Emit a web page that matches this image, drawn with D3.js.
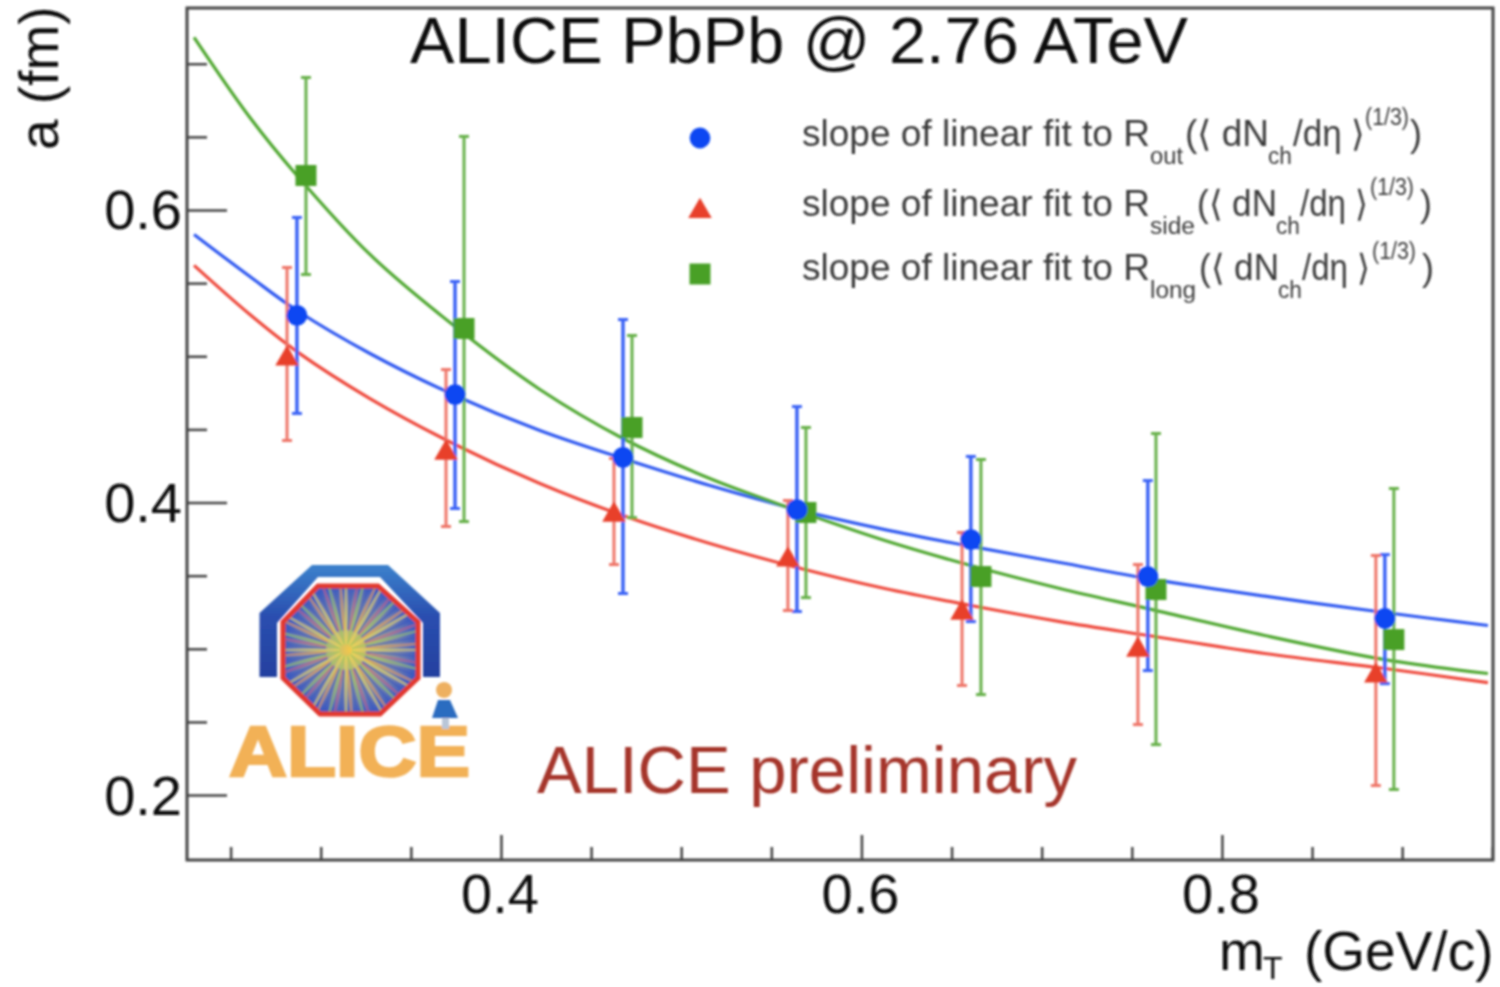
<!DOCTYPE html>
<html><head><meta charset="utf-8">
<script src="https://cdnjs.cloudflare.com/ajax/libs/d3/7.8.5/d3.min.js"></script>
<style>html,body{margin:0;padding:0;background:#fff;overflow:hidden}text{font-family:"Liberation Sans",Arial,sans-serif}</style>
</head><body><svg id="c" width="1500" height="987"></svg>
<script>
const seriesNames=["out","side","long"];
const xOut=[0.2868,0.3745,0.4677,0.5642,0.6607,0.7589,0.8904];
const yOut=[0.5279,0.4738,0.4308,0.3952,0.3747,0.3494,0.3207];
const hiOut=[0.5949,0.5511,0.5251,0.4656,0.4315,0.4150,0.3644];
const loOut=[0.4609,0.3959,0.3378,0.3255,0.3186,0.2851,0.2762];
const xSide=[0.2813,0.3695,0.4627,0.5592,0.6558,0.7534,0.8854];
const ySide=[0.5005,0.4362,0.3938,0.3631,0.3268,0.3015,0.2838];
const hiSide=[0.5607,0.4909,0.4301,0.4014,0.3795,0.3576,0.3638];
const loSide=[0.4424,0.3836,0.3576,0.3262,0.2749,0.2482,0.2065];
const xLong=[0.2918,0.3795,0.4727,0.5692,0.6663,0.7634,0.8954];
const yLong=[0.6236,0.5190,0.4513,0.3932,0.3494,0.3405,0.3063];
const hiLong=[0.6906,0.6503,0.5142,0.4513,0.4294,0.4472,0.4096];
const loLong=[0.5559,0.3870,0.3897,0.3350,0.2687,0.2345,0.2038];
const curveX=[0.2297,0.2607,0.2868,0.3273,0.3745,0.4216,0.4677,0.5159,0.5642,0.6130,0.6607,0.7101,0.7589,0.8238,0.8904,0.9476];
const curveOut=[0.5833,0.5545,0.5313,0.5019,0.4732,0.4492,0.4301,0.4116,0.3952,0.3815,0.3700,0.3590,0.3480,0.3360,0.3248,0.3159];
const curveSide=[0.5621,0.5285,0.5032,0.4711,0.4397,0.4130,0.3911,0.3720,0.3556,0.3412,0.3296,0.3186,0.3091,0.2968,0.2865,0.2769];
const curveLong=[0.7180,0.6632,0.6236,0.5696,0.5203,0.4773,0.4438,0.4164,0.3945,0.3740,0.3569,0.3412,0.3275,0.3091,0.2926,0.2831];
const xMajor=[0.4,0.6,0.8];
const xMinor=[0.25,0.3,0.35,0.45,0.5,0.55,0.65,0.7,0.75,0.85,0.9,0.95];
const yMajor=[0.2,0.4,0.6];
const yMinor=[0.25,0.3,0.35,0.45,0.5,0.55,0.65,0.7];

const svg=d3.select("#c");
const defs=svg.append("defs");
defs.append("filter").attr("id","soft").attr("x","-5%").attr("y","-5%").attr("width","110%").attr("height","110%")
  .append("feGaussianBlur").attr("stdDeviation",1.0);
const root=svg.append("g").attr("filter","url(#soft)");
const L=187,R=1493,T=8,B=860;
const x=d3.scaleLinear().domain([0.2258,0.9504]).range([L,R]);
const y=d3.scaleLinear().domain([0.1556,0.7381]).range([B,T]);
const ink="#111";

const series=[
 {xs:xOut,ys:yOut,hi:hiOut,lo:loOut,c:curveOut,mark:"#0a47f2",bar:"#3a62f5",line:"#2f58f0",sym:d3.symbolCircle,size:340,dy:0,sw:3.5},
 {xs:xSide,ys:ySide,hi:hiSide,lo:loSide,c:curveSide,mark:"#e8402c",bar:"#ee7468",line:"#ee4a3c",sym:d3.symbolTriangle,size:240,dy:3.3,sw:3},
 {xs:xLong,ys:yLong,hi:hiLong,lo:loLong,c:curveLong,mark:"#4aa026",bar:"#66b04a",line:"#50a730",sym:d3.symbolSquare,size:440,dy:0,sw:3}
];

// axes
const ax=(sel,gen)=>{sel.call(gen);sel.select(".domain").remove();sel.selectAll("line").attr("stroke","#444").attr("stroke-width",2.5);};
root.append("g").attr("transform",`translate(0,${B})`).call(s=>ax(s,d3.axisTop(x).tickValues(xMinor).tickSize(13).tickFormat("")));
const xa=root.append("g").attr("transform",`translate(0,${B})`);
ax(xa,d3.axisTop(x).tickValues(xMajor).tickSize(25).tickFormat(d3.format(".1f")));
xa.selectAll("text").attr("y",0).attr("x",-1.5).attr("dy",53).attr("font-size",56).attr("fill",ink).attr("text-anchor","middle");
root.append("g").attr("transform",`translate(${L},0)`).call(s=>ax(s,d3.axisRight(y).tickValues(yMinor).tickSize(20).tickFormat("")));
const ya=root.append("g").attr("transform",`translate(${L},0)`);
ax(ya,d3.axisRight(y).tickValues(yMajor).tickSize(40).tickFormat(d3.format(".1f")));
ya.selectAll("text").attr("x",-5).attr("dy",19).attr("font-size",56).attr("fill",ink).attr("text-anchor","end");

// logo
const logo=root.append("g");
const gr=defs.append("linearGradient").attr("id","arch").attr("x1",0).attr("y1",0).attr("x2",0).attr("y2",1);
gr.append("stop").attr("offset",0).attr("stop-color","#3c82cc");
gr.append("stop").attr("offset",0.45).attr("stop-color","#2a4fb0");
gr.append("stop").attr("offset",1).attr("stop-color","#24409f");
logo.append("path").attr("d","M259.5,677V613L312,565H388L440,613V677H423V623L380,577H318L277,623V677Z").attr("fill","url(#arch)");
const rg=defs.append("radialGradient").attr("id","core");
rg.append("stop").attr("offset",0).attr("stop-color","#f5c84a");
rg.append("stop").attr("offset",0.3).attr("stop-color","#b8b878");
rg.append("stop").attr("offset",0.7).attr("stop-color","#7a86a8");
rg.append("stop").attr("offset",1).attr("stop-color","#3f5cc0");
const octa="M318,586H378L418,622V678L380,714H320L283,678V622Z";
defs.append("clipPath").attr("id","octa").append("path").attr("d",octa);
logo.append("path").attr("d",octa).attr("fill","url(#core)");
const rays=d3.range(72);
const rayCol=["#e8d860","#3a58c0","#c0608c","#9cc860","#3a58c0","#e8a050"];
logo.append("g").attr("clip-path","url(#octa)").selectAll("line").data(rays).join("line")
 .attr("x1",d=>346+Math.cos(d*Math.PI/36)*(d%3===0?6:20)).attr("y1",d=>650+Math.sin(d*Math.PI/36)*(d%3===0?6:20))
 .attr("x2",d=>346+Math.cos(d*Math.PI/36)*80).attr("y2",d=>650+Math.sin(d*Math.PI/36)*80)
 .attr("stroke",d=>rayCol[d%6]).attr("stroke-width",1.6).attr("opacity",0.85);
logo.append("path").attr("d",octa).attr("fill","none").attr("stroke","#e2382e").attr("stroke-width",5);
logo.append("text").attr("x",229).attr("y",776).attr("font-size",70).attr("font-weight","bold").attr("fill","#f2b156")
 .attr("stroke","#f2b156").attr("stroke-width",2.5)
 .attr("textLength",241).attr("lengthAdjust","spacingAndGlyphs").text("ALICE");
logo.append("circle").attr("cx",444).attr("cy",690).attr("r",8).attr("fill","#eeb060");
logo.append("path").attr("d","M438,700H450L458,718H432Z").attr("fill","#2a6cc0");
logo.append("path").attr("d","M442,718H449V729H442Z").attr("fill","#b9c6d8");

// fit curves
const lineGen=d3.line().curve(d3.curveCatmullRom.alpha(0.5));
series.forEach(s=>{
 root.append("path").attr("fill","none").attr("stroke",s.line).attr("stroke-width",3.2)
  .attr("d",lineGen(curveX.map((v,i)=>[x(v),y(s.c[i])])));
});
// error bars
series.forEach(s=>{
 const g=root.append("g").attr("stroke",s.bar).attr("stroke-width",s.sw).attr("fill","none");
 g.selectAll("line.v").data(s.xs).join("line").attr("class","v")
  .attr("x1",d=>x(d)).attr("x2",d=>x(d)).attr("y1",(d,i)=>y(s.hi[i])).attr("y2",(d,i)=>y(s.lo[i]));
 [s.hi,s.lo].forEach((arr,k)=>{
  g.selectAll("line.c"+k).data(s.xs).join("line").attr("class","c"+k).attr("stroke-width",3)
   .attr("x1",d=>x(d)-5).attr("x2",d=>x(d)+5).attr("y1",(d,i)=>y(arr[i])).attr("y2",(d,i)=>y(arr[i]));
 });
});
// markers (drawn long, side, out to match stacking)
[series[2],series[1],series[0]].forEach(s=>{
 const sym=d3.symbol().type(s.sym).size(s.size);
 root.append("g").selectAll("path").data(s.xs).join("path").attr("fill",s.mark)
  .attr("transform",(d,i)=>`translate(${x(d)},${y(s.ys[i])+s.dy})`).attr("d",sym());
});

// frame
root.append("rect").attr("x",L).attr("y",T).attr("width",R-L).attr("height",B-T).attr("fill","none").attr("stroke","#444").attr("stroke-width",3);

// text
const txt=(t,px,py,size,col,extra)=>{const e=root.append("text").attr("x",px).attr("y",py).attr("font-size",size).attr("fill",col).text(t);if(extra)extra(e);return e;};
txt("ALICE PbPb @ 2.76 ATeV",410,63,65,ink,e=>e.attr("textLength",778).attr("lengthAdjust","spacingAndGlyphs"));
txt("ALICE preliminary",537,793,67,"#a5342a",e=>e.attr("textLength",540).attr("lengthAdjust","spacingAndGlyphs"));
root.append("text").attr("transform","translate(58,150) rotate(-90)").attr("font-size",55).attr("fill",ink).text("a (fm)");
txt("m",1219,970,55,ink);
txt("T",1263,979,32,ink);
txt("(GeV/c)",1304,970,55,ink);

// legend
const legendMain="slope of linear fit to R";
const legendRows=[
 {name:"out",yb:146,o:1150,sw:33,a:1185,al:84,cx:1268,b:1293,bl:72,e:1365,ex:1410},
 {name:"side",yb:216,o:1150,sw:45,a:1197,al:80,cx:1276,b:1300,bl:68,e:1370,ex:1420},
 {name:"long",yb:280,o:1150,sw:46,a:1199,al:80,cx:1278,b:1302,bl:68,e:1372,ex:1422}
];
const lc="#3a3a3a";
const fit=(w)=>e=>e.attr("textLength",w).attr("lengthAdjust","spacingAndGlyphs");
legendRows.forEach(r=>{
 txt(legendMain,802,r.yb,36,lc,fit(348));
 txt(r.name,r.o,r.yb+18,23,lc,fit(r.sw));
 txt("(\u27E8 dN",r.a,r.yb,36,lc,fit(r.al));
 txt("ch",r.cx,r.yb+18,23,lc,fit(24));
 txt("/d\u03B7 \u27E9",r.b,r.yb,36,lc,fit(r.bl));
 txt("(1/3)",r.e,r.yb-21,23,lc,fit(44));
 txt(")",r.ex,r.yb,36,lc);
});
const legY=[138,208,274];
series.forEach((s,i)=>{
 const sym=d3.symbol().type(s.sym).size(s.size);
 root.append("path").attr("d",sym()).attr("fill",s.mark).attr("transform",`translate(700,${legY[i]+s.dy})`);
});
</script></body></html>
